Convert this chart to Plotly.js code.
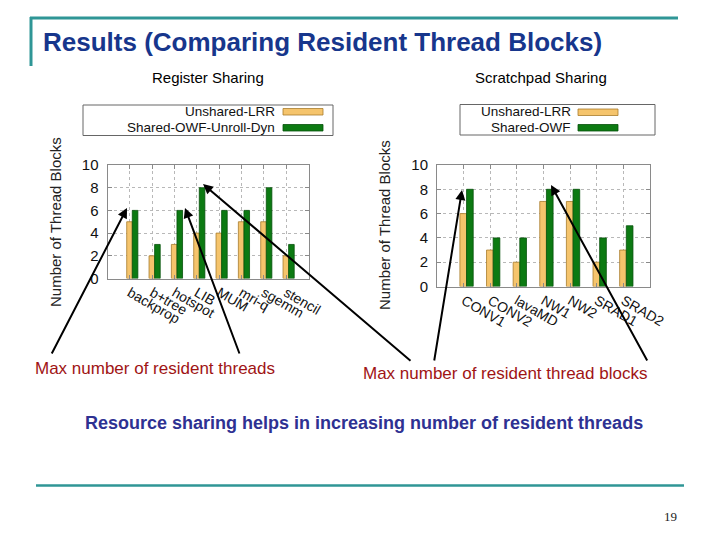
<!DOCTYPE html>
<html>
<head>
<meta charset="utf-8">
<script src="https://cdn.plot.ly/plotly-3.0.1.min.js"></script>
<style>
html,body{margin:0;padding:0;background:#fff;}
#chart{width:720px;height:540px;}
</style>
</head>
<body>
<div id="chart"></div>
<script>
// ---- data ----
const regCategories = ['backprop', 'b+tree', 'hotspot', 'LIB', 'MUM', 'mri-q', 'sgemm', 'stencil'];
const regUnshared = [5, 2, 3, 4, 4, 5, 5, 2];
const regShared = [6, 3, 6, 8, 6, 6, 8, 3];
const regSeriesNames = ['Unshared-LRR', 'Shared-OWF-Unroll-Dyn'];

const spmCategories = ['CONV1', 'CONV2', 'lavaMD', 'NW1', 'NW2', 'SRAD1', 'SRAD2'];
const spmUnshared = [6, 3, 2, 7, 7, 2, 3];
const spmShared = [8, 4, 4, 8, 8, 4, 5];
const spmSeriesNames = ['Unshared-LRR', 'Shared-OWF'];

const yTickValues = [0, 2, 4, 6, 8, 10];

// ---- helpers (pixel -> paper) ----
const W = 720, H = 540;
const px = x => x / W;
const py = y => 1 - y / H;

const YELLOW = '#f5c46c', YELLOW_LINE = '#a87c2c';
const GREEN = '#0c7a12', GREEN_LINE = '#05500a';
const FONT = '"Liberation Sans", Arial, Helvetica, sans-serif';

function barTrace(cats, vals, name, color, lineColor, offset, xa, ya) {
  return {
    type: 'bar', x: cats, y: vals, name: name,
    xaxis: xa, yaxis: ya, offset: offset, width: 0.25,
    marker: {color: color, line: {color: lineColor, width: 0.8}},
    showlegend: false, hoverinfo: 'x+y+name'
  };
}

const data = [
  barTrace(regCategories, regUnshared, regSeriesNames[0], YELLOW, YELLOW_LINE, -0.14, 'x', 'y'),
  barTrace(regCategories, regShared, regSeriesNames[1], GREEN, GREEN_LINE, 0.11, 'x', 'y'),
  barTrace(spmCategories, spmUnshared, spmSeriesNames[0], YELLOW, YELLOW_LINE, -0.14, 'x2', 'y2'),
  barTrace(spmCategories, spmShared, spmSeriesNames[1], GREEN, GREEN_LINE, 0.11, 'x2', 'y2')
];

function xAxis(domain, n, anchor) {
  return {
    domain: domain, anchor: anchor, type: 'category',
    range: [-1, n], tickangle: 30,
    showgrid: true, gridcolor: '#b8b8b8', griddash: 'dot', gridwidth: 1,
    showline: true, mirror: 'ticks', linecolor: '#8a8a8a', linewidth: 1,
    ticks: 'inside', ticklen: 4, tickcolor: '#8a8a8a',
    tickfont: {family: FONT, size: 14, color: '#111'},
    zeroline: false, fixedrange: true
  };
}
function yAxis(domain, anchor) {
  return {
    domain: domain, anchor: anchor, range: [0, 10],
    tickvals: yTickValues, ticktext: yTickValues.map(String),
    showgrid: true, gridcolor: '#b8b8b8', griddash: 'dot', gridwidth: 1,
    showline: true, mirror: 'ticks', linecolor: '#8a8a8a', linewidth: 1,
    ticks: 'inside', ticklen: 4, tickcolor: '#8a8a8a',
    ticklabelstandoff: 5,
    tickfont: {family: FONT, size: 15, color: '#111'},
    zeroline: false, fixedrange: true
  };
}

const TEAL = '#2f9696';
const shapes = [
  // slide decoration
  {type: 'line', xref: 'paper', yref: 'paper', x0: px(30), x1: px(678), y0: py(18), y1: py(18), line: {color: TEAL, width: 3}},
  {type: 'line', xref: 'paper', yref: 'paper', x0: px(31), x1: px(31), y0: py(17), y1: py(66), line: {color: TEAL, width: 3}},
  {type: 'line', xref: 'paper', yref: 'paper', x0: px(36), x1: px(684), y0: py(485.5), y1: py(485.5), line: {color: TEAL, width: 2.5}},
  // legend boxes
  {type: 'rect', xref: 'paper', yref: 'paper', x0: px(83), x1: px(333), y0: py(105), y1: py(135.5), line: {color: '#666', width: 1}, fillcolor: 'rgba(0,0,0,0)'},
  {type: 'rect', xref: 'paper', yref: 'paper', x0: px(460), x1: px(655), y0: py(104.5), y1: py(135), line: {color: '#666', width: 1}, fillcolor: 'rgba(0,0,0,0)'},
  // legend swatches
  {type: 'rect', xref: 'paper', yref: 'paper', x0: px(283), x1: px(323), y0: py(108.5), y1: py(115), line: {color: YELLOW_LINE, width: 0.8}, fillcolor: YELLOW},
  {type: 'rect', xref: 'paper', yref: 'paper', x0: px(283), x1: px(323), y0: py(124.5), y1: py(131), line: {color: GREEN_LINE, width: 0.8}, fillcolor: GREEN},
  {type: 'rect', xref: 'paper', yref: 'paper', x0: px(578), x1: px(618), y0: py(109), y1: py(115.5), line: {color: YELLOW_LINE, width: 0.8}, fillcolor: YELLOW},
  {type: 'rect', xref: 'paper', yref: 'paper', x0: px(578), x1: px(618), y0: py(124.5), y1: py(131), line: {color: GREEN_LINE, width: 0.8}, fillcolor: GREEN}
];

function txt(text, x, y, size, color, opts) {
  return Object.assign({
    text: text, xref: 'paper', yref: 'paper', x: px(x), y: py(y),
    xanchor: 'left', yanchor: 'middle', showarrow: false,
    font: {family: FONT, size: size, color: color}
  }, opts || {});
}
function arrow(hx, hy, tx, ty) {
  return {
    text: '', xref: 'paper', yref: 'paper', x: px(hx), y: py(hy),
    ax: tx - hx, ay: ty - hy, showarrow: true,
    arrowhead: 2, arrowsize: 1, arrowwidth: 2, arrowcolor: '#000'
  };
}

const annotations = [
  txt('<b>Results (Comparing Resident Thread Blocks)</b>', 41, 42, 26, '#17368c'),
  txt('Register Sharing', 208, 78, 15, '#000', {xanchor: 'center'}),
  txt('Scratchpad Sharing', 541, 78, 15, '#000', {xanchor: 'center'}),
  // legends
  txt(regSeriesNames[0], 277, 112, 13.5, '#111', {xanchor: 'right'}),
  txt(regSeriesNames[1], 277, 127.5, 13.5, '#111', {xanchor: 'right'}),
  txt(spmSeriesNames[0], 573, 112, 13.5, '#111', {xanchor: 'right'}),
  txt(spmSeriesNames[1], 573, 127.5, 13.5, '#111', {xanchor: 'right'}),
  // axis titles
  txt('Number of Thread Blocks', 55, 222, 15, '#222', {xanchor: 'center', textangle: -90}),
  txt('Number of Thread Blocks', 384, 225, 15, '#222', {xanchor: 'center', textangle: -90}),
  // callouts
  txt('Max number of resident threads', 33, 368.5, 17, '#a01414'),
  txt('Max number of resident thread blocks', 361, 373.5, 17, '#a01414'),
  txt('<b>Resource sharing helps in increasing number of resident threads</b>', 363.5, 422.5, 18, '#2e3192', {xanchor: 'center'}),
  txt('19', 670, 516.5, 13, '#222', {xanchor: 'center', font: {family: '"Liberation Serif", "Times New Roman", serif', size: 13, color: '#222'}}),
  // arrows
  arrow(127, 208, 51, 355),
  arrow(185, 208, 240, 355),
  arrow(203, 184, 412, 362),
  arrow(462, 190, 434, 362),
  arrow(551, 185, 648, 362)
];

const layout = {
  width: W, height: H,
  margin: {l: 0, r: 0, t: 0, b: 0},
  paper_bgcolor: '#fff', plot_bgcolor: '#fff',
  barmode: 'overlay', showlegend: false,
  font: {family: FONT},
  xaxis: xAxis([px(107.5), px(308.5)], regCategories.length, 'y'),
  yaxis: yAxis([py(278.5), py(165)], 'x'),
  xaxis2: xAxis([px(437), px(650)], spmCategories.length, 'y2'),
  yaxis2: yAxis([py(286.5), py(165)], 'x2'),
  shapes: shapes,
  annotations: annotations
};

Plotly.newPlot('chart', data, layout, {displayModeBar: false, staticPlot: true});
</script>
</body>
</html>
